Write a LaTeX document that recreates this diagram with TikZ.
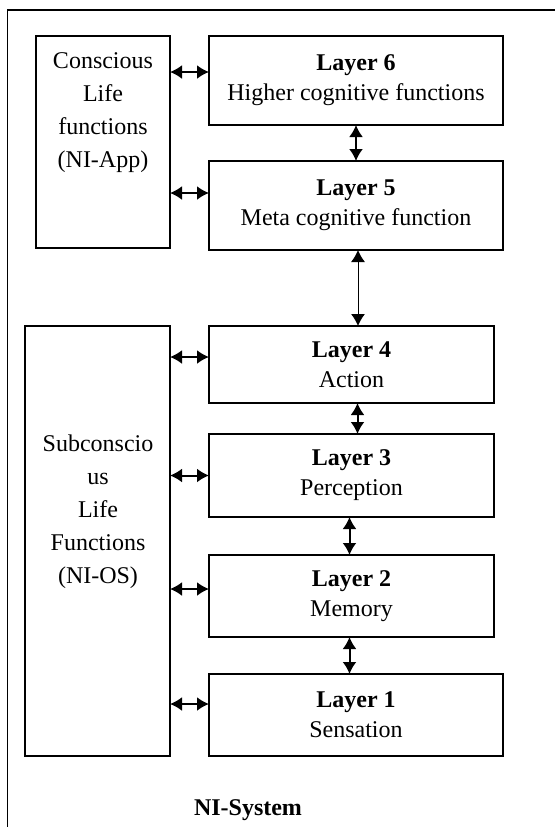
\documentclass[tikz,border=0pt]{standalone}
\usepackage{fontspec}
\setmainfont{Liberation Serif}
\usetikzlibrary{arrows.meta}

\tikzset{
  layerbox/.style={draw, line width=1.1pt, inner sep=0pt, outer sep=0pt, align=center},
  sidebox/.style={draw, line width=0.8pt, inner sep=0pt, outer sep=0pt},
  sidetext/.style={align=center, font=\fontsize{12}{16.5}\selectfont},
  link/.style={{Latex[length=6pt,width=7pt]}-{Latex[length=6pt,width=7pt]}, line width=1pt},
}

\begin{document}
\begin{tikzpicture}[x=0.5pt, y=-0.5pt, font=\fontsize{12}{15}\selectfont]
    \useasboundingbox (0,0) rectangle (555,827);
    \clip (0,0) rectangle (555,827);

    % outer frame (runs off the page)
    \draw[line width=0.7pt] (7.5,10) rectangle (620,900);

    % left side boxes
    \node[sidebox, minimum width=67pt, minimum height=106pt](app) at (103,142) {};
    \node[sidetext](appText) at (103,113) {Conscious\\Life\\functions\\(NI-App)};
    \node[sidebox, minimum width=72.5pt, minimum height=215pt](os) at (97.5,541) {};
    \node[sidetext](osText) at (98,512) {Subconscio\\us\\Life\\Functions\\(NI-OS)};

    % the six layers
    \node[layerbox, minimum width=147pt, minimum height=44.5pt](L6) at (356,80.5) {\textbf{Layer 6}\\Higher cognitive functions};
    \node[layerbox, minimum width=147pt, minimum height=44.5pt](L5) at (356,205.5) {\textbf{Layer 5}\\Meta cognitive function};
    \node[layerbox, minimum width=142.5pt, minimum height=38.5pt](L4) at (351.5,364.5) {\textbf{Layer 4}\\Action};
    \node[layerbox, minimum width=142.5pt, minimum height=41.5pt](L3) at (351.5,475.5) {\textbf{Layer 3}\\Perception};
    \node[layerbox, minimum width=142.5pt, minimum height=41pt](L2) at (351.5,596) {\textbf{Layer 2}\\Memory};
    \node[layerbox, minimum width=147pt, minimum height=41pt](L1) at (356,715) {\textbf{Layer 1}\\Sensation};

    \node[font=\fontsize{12}{15}\bfseries](sys) at (248,810) {NI-System};

    % links between layers
    \draw[link] (L6.south) -- (L5.north);
    \draw[link, line width=0.5pt] ([xshift=1pt]L5.south) -- ([xshift=1pt]L5.south |- L4.north);
    \draw[link] ([xshift=3pt]L4.south) -- ([xshift=3pt]L4.south |- L3.north);
    \draw[link] ([xshift=-1pt]L3.south) -- ([xshift=-1pt]L3.south |- L2.north);
    \draw[link] ([xshift=-1pt]L2.south) -- ([xshift=-1pt]L2.south |- L1.north);

    % links to the side boxes
    \draw[link] ([yshift=4.25pt]L6.west -| app.east) -- ([yshift=4.25pt]L6.west);
    \draw[link] ([yshift=6.25pt]L5.west -| app.east) -- ([yshift=6.25pt]L5.west);
    \draw[link] ([yshift=3.75pt]L4.west -| os.east) -- ([yshift=3.75pt]L4.west);
    \draw[link] (L3.west -| os.east) -- (L3.west);
    \draw[link] ([yshift=3.5pt]L2.west -| os.east) -- ([yshift=3.5pt]L2.west);
    \draw[link] ([yshift=5.5pt]L1.west -| os.east) -- ([yshift=5.5pt]L1.west);
\end{tikzpicture}
\end{document}
